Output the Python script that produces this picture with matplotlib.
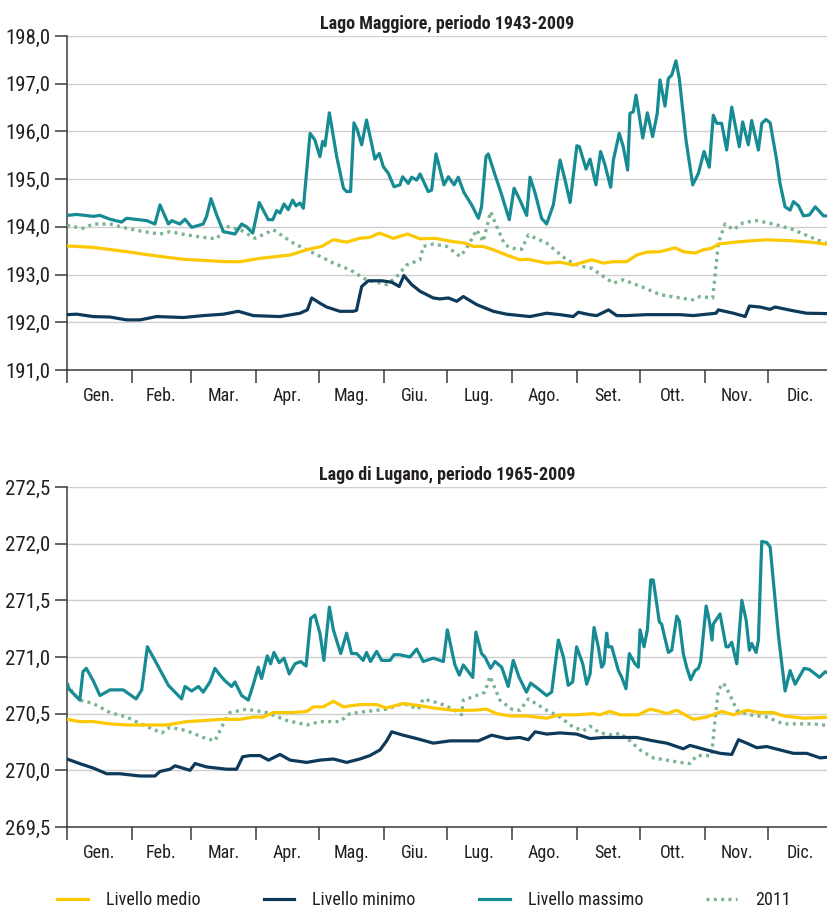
import matplotlib
matplotlib.use('Agg')
import matplotlib.pyplot as plt
from matplotlib import font_manager as fm
from matplotlib.lines import Line2D
from matplotlib.ticker import FuncFormatter

# pick the narrowest sans available (reference uses a condensed face)
names = {f.name for f in fm.fontManager.ttflist}
dv_cond = any(f.name == 'DejaVu Sans' and 'Condensed' in f.fname for f in fm.fontManager.ttflist)
narrow = next((n for n in ['Liberation Sans Narrow', 'Roboto Condensed', 'Open Sans Condensed']
               if n in names), None)
if narrow:
    plt.rcParams['font.family'] = [narrow, 'DejaVu Sans']
    fs = 1.0
elif dv_cond:
    plt.rcParams['font.family'] = ['DejaVu Sans']
    plt.rcParams['font.stretch'] = 'condensed'
    fs = 0.84
else:
    plt.rcParams['font.family'] = ['Liberation Sans', 'DejaVu Sans']
    fs = 0.84

# months
months = ['Gen.', 'Feb.', 'Mar.', 'Apr.', 'Mag.', 'Giu.', 'Lug.', 'Ago.', 'Set.', 'Ott.', 'Nov.', 'Dic.']
month_start = [0, 31, 59, 90, 120, 151, 181, 212, 243, 273, 304, 334]
month_len = [31, 28, 31, 30, 31, 30, 31, 31, 30, 31, 30, 31]

# ---- Lago Maggiore (day of year, m s.l.m.) ----
mag_max_day = [0, 4.6, 12.5, 15.7, 20.5, 26, 28.4, 38, 41.9, 44.3, 48.3, 49.9, 53.8, 56.2, 59.4, 64.9,
               66.5, 68.6, 71.3, 74.5, 80, 83.2, 85.6, 88.5, 91.6, 93.9, 95.9, 98, 99.9, 101.5, 103.4,
               105.4, 107.5, 109.1, 111, 112.6, 115.8, 118.1, 120.5, 121.8, 122.9, 125, 128.5, 131.7,
               133.2, 135.1, 136.7, 138.3, 140.4, 142.7, 146.7, 148.8, 150.7, 153.1, 155.8, 158.6,
               159.9, 162.6, 164.2, 166.6, 168.2, 172.1, 173.7, 175.8, 179.6, 181.7, 184.4, 186.4,
               189.1, 192.8, 196, 197.5, 199.6, 200.7, 203.9, 207.1, 210.7, 213, 215.8, 219, 220.6,
               223, 226.1, 228.5, 231.7, 234.9, 237.3, 239.7, 242.9, 244.1, 247.3, 249.2, 252, 254.2,
               256.3, 259, 260.3, 263.1, 265, 267.1, 268.2, 269.8, 271.1, 274.3, 276.5, 279, 281.2,
               282.5, 284.9, 286.5, 288.1, 290.1, 291.7, 294.9, 298.1, 300.8, 303.5, 306, 307.9,
               309.5, 311.9, 314.3, 316.7, 320.3, 321.9, 324.6, 326.2, 329.4, 331, 333, 335, 338.1,
               339.7, 342.1, 344.5, 346.1, 348.5, 350.9, 353.7, 356.5, 360.4, 365]
mag_max = [194.24, 194.26, 194.22, 194.24, 194.16, 194.10, 194.18, 194.13, 194.06, 194.46, 194.06,
           194.13, 194.06, 194.16, 193.99, 194.06, 194.22, 194.59, 194.25, 193.90, 193.85, 194.06,
           194.00, 193.87, 194.51, 194.32, 194.15, 194.15, 194.34, 194.29, 194.48, 194.36, 194.56,
           194.44, 194.50, 194.39, 195.96, 195.82, 195.47, 195.79, 195.70, 196.39, 195.47, 194.81,
           194.74, 194.74, 196.18, 196.03, 195.72, 196.24, 195.42, 195.54, 195.26, 195.12, 194.84,
           194.88, 195.05, 194.91, 195.04, 194.98, 195.11, 194.74, 194.77, 195.53, 194.88, 195.05,
           194.88, 195.04, 194.72, 194.46, 194.18, 194.42, 195.47, 195.53, 195.09, 194.67, 194.15,
           194.81, 194.56, 194.24, 195.04, 194.71, 194.18, 194.06, 194.46, 195.40, 194.98, 194.51,
           195.70, 195.68, 195.21, 195.42, 194.88, 195.58, 195.30, 194.83, 195.40, 195.96, 195.68,
           195.19, 196.38, 196.41, 196.76, 195.86, 196.39, 195.89, 196.38, 197.08, 196.53, 197.11,
           197.18, 197.48, 197.11, 195.82, 194.88, 195.12, 195.58, 195.25, 196.34, 196.17, 196.17,
           195.61, 196.51, 195.68, 196.20, 195.72, 196.23, 195.61, 196.17, 196.25, 196.18, 195.40,
           194.91, 194.42, 194.35, 194.53, 194.44, 194.23, 194.25, 194.42, 194.23, 194.23]

mag_med_day = [0, 12.5, 28.4, 41, 55.4, 76, 82.5, 92, 106.3, 114.2, 121.3, 126.9, 133.2, 139.5, 144.3,
               148.8, 155.5, 162.2, 168.2, 175.3, 184, 189.6, 193.6, 198.3, 203.1, 209.4, 215.8,
               219.8, 228.5, 234.9, 241.2, 250, 255.5, 260.3, 266.6, 271.4, 276.2, 282.5, 289.7,
               293.6, 299.2, 303.2, 307.1, 310.3, 320.6, 333.3, 344.5, 354, 365]
mag_med = [193.60, 193.57, 193.48, 193.40, 193.32, 193.27, 193.27, 193.34, 193.41, 193.52, 193.59,
           193.73, 193.68, 193.76, 193.78, 193.87, 193.76, 193.85, 193.75, 193.76, 193.69, 193.66,
           193.59, 193.59, 193.52, 193.41, 193.31, 193.32, 193.24, 193.26, 193.20, 193.31, 193.24,
           193.27, 193.27, 193.41, 193.47, 193.48, 193.56, 193.48, 193.45, 193.52, 193.55, 193.64,
           193.69, 193.73, 193.71, 193.68, 193.62]

mag_min_day = [0, 4.6, 12.5, 20.5, 28.4, 34.8, 42.7, 55.4, 64.9, 74.5, 81.6, 88.8, 101.5, 111, 114.5,
               116.6, 120.5, 123.7, 130, 136.4, 137.9, 140.4, 143.5, 149.9, 154.7, 158.3, 160.5,
               164.2, 168.2, 174.5, 177.7, 181.7, 185.7, 188.8, 195.2, 203.1, 209.4, 220.6, 228.5,
               234.9, 241.2, 243.6, 248.9, 252.4, 258, 261.9, 266.6, 276.2, 292, 298.4, 309.2,
               310.3, 317.5, 323.1, 325.1, 330.2, 335, 337.3, 346.1, 352.4, 365]
mag_min = [192.16, 192.17, 192.12, 192.11, 192.05, 192.05, 192.12, 192.10, 192.14, 192.17, 192.23,
           192.14, 192.12, 192.19, 192.26, 192.51, 192.40, 192.32, 192.23, 192.23, 192.25, 192.75,
           192.87, 192.87, 192.84, 192.75, 192.98, 192.79, 192.65, 192.51, 192.49, 192.51, 192.44,
           192.54, 192.37, 192.23, 192.17, 192.12, 192.19, 192.16, 192.12, 192.21, 192.16, 192.14,
           192.26, 192.14, 192.14, 192.16, 192.16, 192.14, 192.19, 192.26, 192.19, 192.12, 192.34,
           192.32, 192.27, 192.32, 192.24, 192.19, 192.18]

mag_2011_day = [0, 7.6, 12.5, 20.5, 28.4, 36.4, 44.3, 49.1, 57, 64.9, 71.3, 76, 82.5, 89.6, 98.3,
                107.8, 117.4, 122, 126.9, 134.8, 142.7, 152.3, 157.1, 161.8, 168.2, 169.7, 174.5,
                180.9, 187.3, 190.4, 195.2, 198.3, 201.8, 204.7, 208.6, 212.6, 216.6, 219.8, 228.5,
                238, 244.4, 250, 253.9, 260.3, 265, 274.7, 282.5, 292, 298.4, 301.6, 307.6, 308.7,
                310.3, 313.5, 317.5, 322.3, 328.7, 336.7, 346.1, 355.6, 365]
mag_2011 = [194.03, 193.97, 194.06, 194.06, 193.97, 193.90, 193.85, 193.90, 193.83, 193.78, 193.75,
            194.01, 193.94, 193.76, 193.94, 193.66, 193.45, 193.35, 193.24, 193.10, 192.89, 192.79,
            192.96, 193.20, 193.31, 193.59, 193.64, 193.59, 193.38, 193.55, 193.94, 193.69, 194.32,
            194.01, 193.62, 193.55, 193.53, 193.83, 193.66, 193.31, 193.18, 193.13, 193.01, 192.82,
            192.89, 192.73, 192.58, 192.51, 192.47, 192.54, 192.51, 192.96, 193.66, 194.06, 193.94,
            194.09, 194.13, 194.06, 193.94, 193.76, 193.60]

# ---- Lago di Lugano ----
lug_max_day = [0, 1.3, 6.1, 7.6, 9.2, 12.5, 15.7, 20.5, 26.8, 32.9, 35.6, 38.3, 41.9, 48.3, 54.6, 56.2,
               59.4, 62.6, 64.9, 68.1, 70.5, 72.9, 75.3, 78.4, 80, 83.2, 86.4, 88.8, 91.1, 92.7, 95.4,
               97, 98.6, 101.1, 103.4, 105.9, 108.6, 111.3, 113.9, 116.1, 118.1, 120.5, 122.4, 125,
               126.9, 130.4, 133.2, 135.6, 138, 141.1, 142.7, 144.6, 147.5, 149.9, 153.9, 155.8,
               158.6, 163.4, 166.6, 169.7, 174.5, 179.3, 181.2, 184.8, 186.9, 188.8, 193.3, 194.8,
               197.5, 199.1, 201.8, 203.9, 207.1, 210.2, 212.6, 215.4, 218.9, 220.9, 224.5, 228.5,
               230.9, 234.1, 236.5, 238.8, 240.9, 242.8, 245.7, 247.6, 249.2, 251.1, 253.1, 254.7,
               255.8, 257.1, 257.9, 259.5, 262.7, 264.3, 266.3, 267.9, 270.6, 272.2, 273, 274.9,
               276.5, 278.1, 279.3, 282.2, 283.3, 286.5, 288.1, 290.5, 291.7, 293.6, 295.2, 297.1,
               299.2, 300.8, 301.9, 304.5, 306, 307.3, 307.9, 311.1, 314, 315.1, 316.7, 319.1, 321.5,
               323.6, 325.1, 326.2, 328.3, 329.4, 331, 333.4, 335, 339, 342.1, 344.5, 346.9, 351.2,
               353.7, 356.5, 358.5, 361.2, 365]
lug_max = [270.76, 270.71, 270.62, 270.87, 270.90, 270.79, 270.66, 270.71, 270.71, 270.63, 270.71,
           271.09, 270.97, 270.75, 270.63, 270.74, 270.70, 270.74, 270.69, 270.78, 270.90, 270.84,
           270.79, 270.74, 270.78, 270.66, 270.62, 270.76, 270.91, 270.81, 271.01, 270.94, 271.04,
           270.95, 270.99, 270.85, 270.94, 270.96, 270.92, 271.34, 271.37, 271.21, 270.97, 271.44,
           271.24, 271.03, 271.21, 271.03, 271.03, 270.97, 271.04, 270.96, 271.05, 270.97, 270.97,
           271.02, 271.02, 271.00, 271.07, 270.96, 270.99, 270.96, 271.24, 270.93, 270.84, 270.93,
           270.82, 271.22, 271.03, 271.00, 270.90, 270.96, 270.91, 270.74, 270.97, 270.82, 270.69,
           270.77, 270.72, 270.66, 270.69, 271.15, 271.00, 270.75, 270.78, 271.09, 270.94, 270.76,
           270.85, 271.26, 271.09, 270.91, 270.94, 271.21, 271.09, 271.09, 270.88, 270.82, 270.72,
           271.03, 270.94, 270.91, 271.24, 271.09, 271.24, 271.68, 271.68, 271.31, 271.29, 271.04,
           271.06, 271.36, 271.32, 271.03, 270.91, 270.80, 270.88, 270.90, 270.96, 271.45, 271.32,
           271.15, 271.29, 271.38, 271.09, 271.09, 271.13, 270.94, 271.50, 271.32, 271.06, 271.12,
           271.04, 271.15, 272.02, 272.01, 271.97, 271.18, 270.70, 270.88, 270.76, 270.90, 270.89,
           270.85, 270.82, 270.87, 270.84]

lug_med_day = [0, 6, 12.5, 20.5, 28.4, 38, 47.5, 57, 66.5, 72.9, 82.5, 88.8, 93.5, 98.3, 107.8, 114.2,
               117.4, 122.1, 126.9, 131.7, 139.5, 147.5, 152.3, 160.2, 168.2, 174.5, 184, 193.6,
               199.9, 204.7, 211, 219, 228.5, 234.9, 242.8, 250.7, 253.9, 258.6, 263.4, 272.2,
               277.7, 282.5, 285.7, 290.5, 298.4, 304.7, 311.9, 317.5, 323.8, 330.2, 336.5, 341.3,
               350.9, 365]
lug_med = [270.45, 270.43, 270.43, 270.41, 270.40, 270.40, 270.40, 270.43, 270.44, 270.45, 270.45,
           270.47, 270.47, 270.51, 270.51, 270.52, 270.56, 270.56, 270.61, 270.56, 270.58, 270.58,
           270.55, 270.59, 270.57, 270.55, 270.53, 270.53, 270.54, 270.50, 270.48, 270.48, 270.46,
           270.49, 270.49, 270.50, 270.49, 270.52, 270.49, 270.49, 270.54, 270.52, 270.50, 270.53,
           270.45, 270.47, 270.52, 270.49, 270.53, 270.51, 270.51, 270.48, 270.46, 270.47]

lug_min_day = [0, 6, 12.5, 18.9, 25.2, 34.8, 41.9, 44.3, 49.1, 51.5, 58.6, 61, 66.5, 76, 80.8, 83.7,
               87.2, 92, 96, 101.5, 106.3, 114.2, 120.5, 126.9, 133.2, 139.5, 144.3, 149.1, 152.3,
               154.7, 160.2, 166.6, 174.5, 182.5, 192, 196, 202.3, 209.4, 215.8, 219.8, 223, 228.5,
               234.9, 242.8, 249.2, 255.5, 263.4, 271.4, 279.3, 285.7, 293.6, 296.8, 304.7, 311.1,
               316.7, 319.9, 323.8, 328.6, 333.4, 339.7, 346.1, 352.4, 358.8, 365]
lug_min = [270.10, 270.06, 270.02, 269.97, 269.97, 269.95, 269.95, 269.99, 270.01, 270.04, 270.00,
           270.06, 270.03, 270.01, 270.01, 270.12, 270.13, 270.13, 270.09, 270.14, 270.09, 270.07,
           270.09, 270.10, 270.07, 270.10, 270.13, 270.18, 270.26, 270.34, 270.31, 270.28, 270.24,
           270.26, 270.26, 270.26, 270.31, 270.28, 270.29, 270.27, 270.34, 270.32, 270.33, 270.32,
           270.28, 270.29, 270.29, 270.29, 270.26, 270.24, 270.19, 270.22, 270.18, 270.15, 270.14,
           270.27, 270.24, 270.20, 270.21, 270.18, 270.15, 270.15, 270.11, 270.12]

lug_2011_day = [0, 2.9, 6.1, 12.5, 20.5, 28.4, 36.4, 45.1, 49.1, 57, 64.9, 70.5, 74.5, 77.6, 85.6,
                95.1, 104.7, 114.2, 120.5, 130, 134.8, 142.7, 152.3, 160.2, 167.4, 169.7, 177.7, 184,
                188, 188.8, 193.6, 199.1, 201.5, 206.2, 211.8, 215.8, 219.8, 228.5, 234.9, 241.2,
                246, 249.2, 253.9, 260.3, 263.4, 268.2, 273, 279.3, 285.7, 292, 296.8, 300, 307.1,
                308.7, 310.3, 312.7, 315.5, 319.1, 325.4, 333.4, 341.3, 349.2, 355.6, 365]
lug_2011 = [270.77, 270.68, 270.62, 270.59, 270.51, 270.47, 270.40, 270.33, 270.38, 270.35, 270.29,
            270.26, 270.41, 270.51, 270.54, 270.51, 270.44, 270.40, 270.43, 270.43, 270.50, 270.52,
            270.54, 270.59, 270.54, 270.63, 270.59, 270.54, 270.49, 270.62, 270.65, 270.69, 270.83,
            270.62, 270.54, 270.53, 270.63, 270.53, 270.47, 270.38, 270.35, 270.39, 270.33, 270.31,
            270.33, 270.26, 270.18, 270.11, 270.09, 270.07, 270.06, 270.13, 270.13, 270.44, 270.71,
            270.77, 270.68, 270.53, 270.49, 270.47, 270.41, 270.41, 270.41, 270.39]

panels = [
    ('Lago Maggiore, periodo 1943-2009', (191, 198), [191 + i for i in range(8)],
     mag_med_day, mag_med, mag_min_day, mag_min, mag_max_day, mag_max, mag_2011_day, mag_2011),
    ('Lago di Lugano, periodo 1965-2009', (269.5, 272.5), [269.5 + 0.5 * i for i in range(7)],
     lug_med_day, lug_med, lug_min_day, lug_min, lug_max_day, lug_max, lug_2011_day, lug_2011),
]

c_med = '#fcc800'
c_min = '#0d3a5a'
c_max = '#178b94'
c_2011 = '#7ab38f'
c_axis = '#3a3a3a'
c_grid = '#cfcfcf'
c_text = '#231f20'

W, H = 828, 911
fig = plt.figure(figsize=(W / 100, H / 100), dpi=100)

# axes boxes in pixels: left, top, bottom
boxes = [(67, 36, 370), (67, 487, 827)]

for (title, ylim, yticks, md, mv, nd, nv, xd, xv, dd, dv), (left, top, bottom) in zip(panels, boxes):
    ax = fig.add_axes([left / W, 1 - bottom / H, (W - left) / W, (bottom - top) / H])
    ax.plot(dd, dv, color=c_2011, lw=2.4, ls=(0, (0.9, 1.3)), zorder=3)
    ax.plot(md, mv, color=c_med, lw=2.3, zorder=4)
    ax.plot(nd, nv, color=c_min, lw=2.3, zorder=4)
    ax.plot(xd, xv, color=c_max, lw=2.3, zorder=5)

    ax.set_xlim(0, (W - left) / 2.099)
    ax.set_ylim(*ylim)
    ax.set_yticks(yticks)
    ax.yaxis.set_major_formatter(FuncFormatter(lambda v, p: f'{v:.1f}'.replace('.', ',')))
    ax.grid(axis='y', color=c_grid, lw=1.0, zorder=0)
    ax.set_axisbelow(True)

    ax.set_xticks(month_start)
    ax.set_xticklabels([])
    ax.set_xticks([s + l / 2 for s, l in zip(month_start, month_len)], minor=True)
    ax.set_xticklabels(months, minor=True)
    ax.tick_params(axis='x', which='major', length=9, width=1.1, color=c_axis, direction='out')
    ax.tick_params(axis='x', which='minor', length=0, pad=12, labelsize=13 * fs, labelcolor=c_text)
    ax.tick_params(axis='y', length=9, width=1.1, color=c_axis, labelsize=15 * fs,
                   labelcolor=c_text, pad=3)

    for s in ['top', 'right']:
        ax.spines[s].set_visible(False)
    for s in ['left', 'bottom']:
        ax.spines[s].set_color(c_axis)
        ax.spines[s].set_linewidth(1.1)

    ax.set_title(title, fontsize=13 * fs, fontweight='bold', color=c_text, pad=5)

handles = [Line2D([], [], color=c_med, lw=2.3),
           Line2D([], [], color=c_min, lw=2.3),
           Line2D([], [], color=c_max, lw=2.3),
           Line2D([], [], color=c_2011, lw=2.4, ls=(0, (0.9, 1.3)))]
labels = ['Livello medio', 'Livello minimo', 'Livello massimo', '2011']
fig.legend(handles, labels, ncol=4, loc='center left', bbox_to_anchor=(57 / W, 1 - 900 / H),
           frameon=False, fontsize=13 * fs, handlelength=1.7 / fs, handletextpad=1.0 / fs,
           columnspacing=3.5 / fs, borderpad=0, borderaxespad=0, labelcolor=c_text)

fig.savefig('out.png', dpi=100)
